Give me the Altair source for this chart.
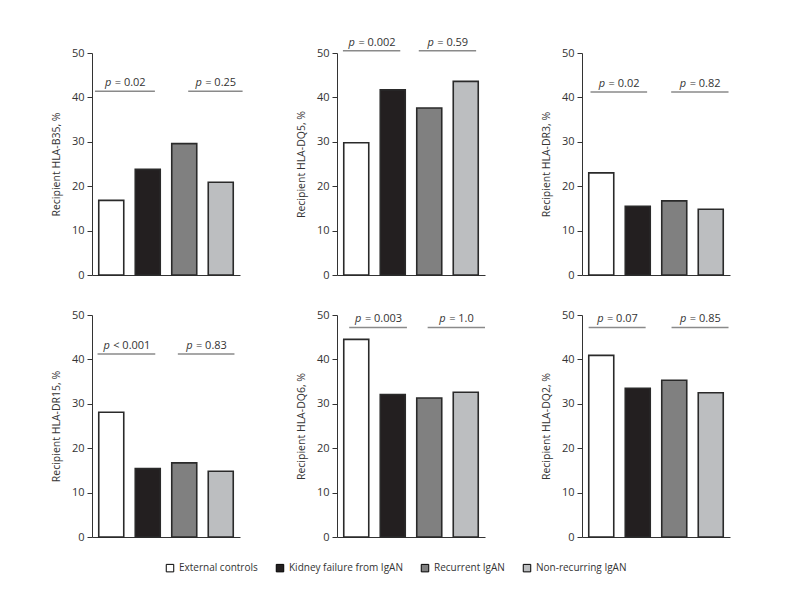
import altair as alt
import pandas as pd

groups = ["External controls", "Kidney failure from IgAN", "Recurrent IgAN", "Non-recurring IgAN"]
fill_colors = ["#ffffff", "#231f20", "#808080", "#bcbec0"]

panel_titles = ["Recipient HLA-B35, %", "Recipient HLA-DQ5, %", "Recipient HLA-DR3, %",
                "Recipient HLA-DR15, %", "Recipient HLA-DQ6, %", "Recipient HLA-DQ2, %"]

b35 = [16.8, 23.8, 29.6, 20.9]
dq5 = [29.8, 41.7, 37.6, 43.6]
dr3 = [23.0, 15.5, 16.7, 14.8]
dr15 = [28.1, 15.4, 16.7, 14.8]
dq6 = [44.5, 32.1, 31.3, 32.6]
dq2 = [40.9, 33.5, 35.3, 32.5]
values = [b35, dq5, dr3, dr15, dq6, dq2]

p_left_op = ["=", "=", "=", "<", "=", "="]
p_left = ["0.02", "0.002", "0.02", "0.001", "0.003", "0.07"]
p_right = ["0.25", "0.59", "0.82", "0.83", "1.0", "0.85"]
bracket_y = [41.4, 50.5, 41.2, 41.2, 47.2, 47.2]
bracket_left = [(0.08, 1.70), (0.16, 1.71), (0.23, 1.76), (0.15, 1.71), (0.33, 1.89), (0.18, 1.72)]
bracket_right = [(2.60, 4.07), (2.21, 3.76), (2.41, 3.96), (2.32, 3.85), (2.45, 4.00), (2.42, 3.96)]

FONT = "Open Sans"
FS = 10.5
W, H = 148, 222
PX = 4.0 / W  # data units per pixel on bracket scale
CW = {"0": .572, "1": .572, "2": .572, "3": .572, "4": .572, "5": .572, "6": .572, "7": .572,
      "8": .572, "9": .572, ".": .266, " ": .32, "=": .572, "<": .572, "p": .613}


def tw(s):
    return sum(CW.get(c, .55) for c in s) * FS


def panel(i):
    df = pd.DataFrame({"group": groups, "value": values[i]})
    bars = alt.Chart(df).mark_bar(stroke="#2a2a2a", strokeWidth=1.6).encode(
        x=alt.X("group:N", sort=groups,
                scale=alt.Scale(paddingInner=0.315, paddingOuter=0.185),
                axis=alt.Axis(labels=False, ticks=False, title=None, domainColor="#333",
                              domainWidth=1)),
        y=alt.Y("value:Q", scale=alt.Scale(domain=[0, 50]),
                axis=alt.Axis(values=[0, 10, 20, 30, 40, 50], title=panel_titles[i], grid=False,
                              domainColor="#333", tickColor="#333", tickSize=5,
                              labelFont=FONT, labelFontSize=FS + 0.5, labelColor="#333",
                              labelPadding=3,
                              titleFont=FONT, titleFontSize=FS, titleFontWeight="normal",
                              titleColor="#333", titlePadding=10)),
        color=alt.Color("group:N", sort=groups,
                        scale=alt.Scale(domain=groups, range=fill_colors),
                        legend=alt.Legend(title=None, orient="none", direction="horizontal",
                                          legendX=73, legendY=510, symbolType="square",
                                          symbolSize=56, symbolStrokeColor="#000",
                                          symbolStrokeWidth=1, labelFont=FONT,
                                          labelFontSize=10, labelColor="#333",
                                          columnPadding=16, labelOffset=4, labelLimit=300)),
    )
    spans = [bracket_left[i], bracket_right[i]]
    ops = [p_left_op[i], "="]
    nums = [p_left[i], p_right[i]]
    rows = []
    for (a, b), op, num in zip(spans, ops, nums):
        rest = op + " " + num
        total = tw("p") + tw(" ") + tw(rest)
        c = (a + b) / 2
        px = c - total / 2 * PX
        rows.append({"x": a, "x2": b, "y": bracket_y[i], "px": px,
                     "rx": px + (tw("p") + tw(" ")) * PX, "rest": rest, "p": "p"})
    bd = pd.DataFrame(rows)
    xs = alt.Scale(domain=[0, 4])
    ys = alt.Scale(domain=[0, 50])
    rules = alt.Chart(bd).mark_rule(color="#8a8a8a", strokeWidth=1.5).encode(
        x=alt.X("x:Q", scale=xs, axis=None), x2="x2:Q", y=alt.Y("y:Q", scale=ys))
    ptext = alt.Chart(bd).mark_text(font=FONT, fontSize=FS + 0.5, fontStyle="italic", color="#333",
                                    align="left", baseline="alphabetic", dy=-5).encode(
        x=alt.X("px:Q", scale=xs, axis=None), y=alt.Y("y:Q", scale=ys), text="p:N")
    rtext = alt.Chart(bd).mark_text(font=FONT, fontSize=FS + 0.5, color="#333",
                                    align="left", baseline="alphabetic", dy=-5).encode(
        x=alt.X("rx:Q", scale=xs, axis=None), y=alt.Y("y:Q", scale=ys), text="rest:N")
    return alt.layer(bars, rules, ptext, rtext).resolve_scale(x="independent").properties(
        width=W, height=H)


chart = alt.concat(*[panel(i) for i in range(6)], columns=3, bounds="flush",
                   spacing={"row": 40, "column": 97}).properties(
    padding={"left": 43, "top": 28, "right": 5, "bottom": 5}
).configure(font=FONT).configure_view(stroke=None)

chart.save("out.html", embed_options={"renderer": "svg", "actions": False})
